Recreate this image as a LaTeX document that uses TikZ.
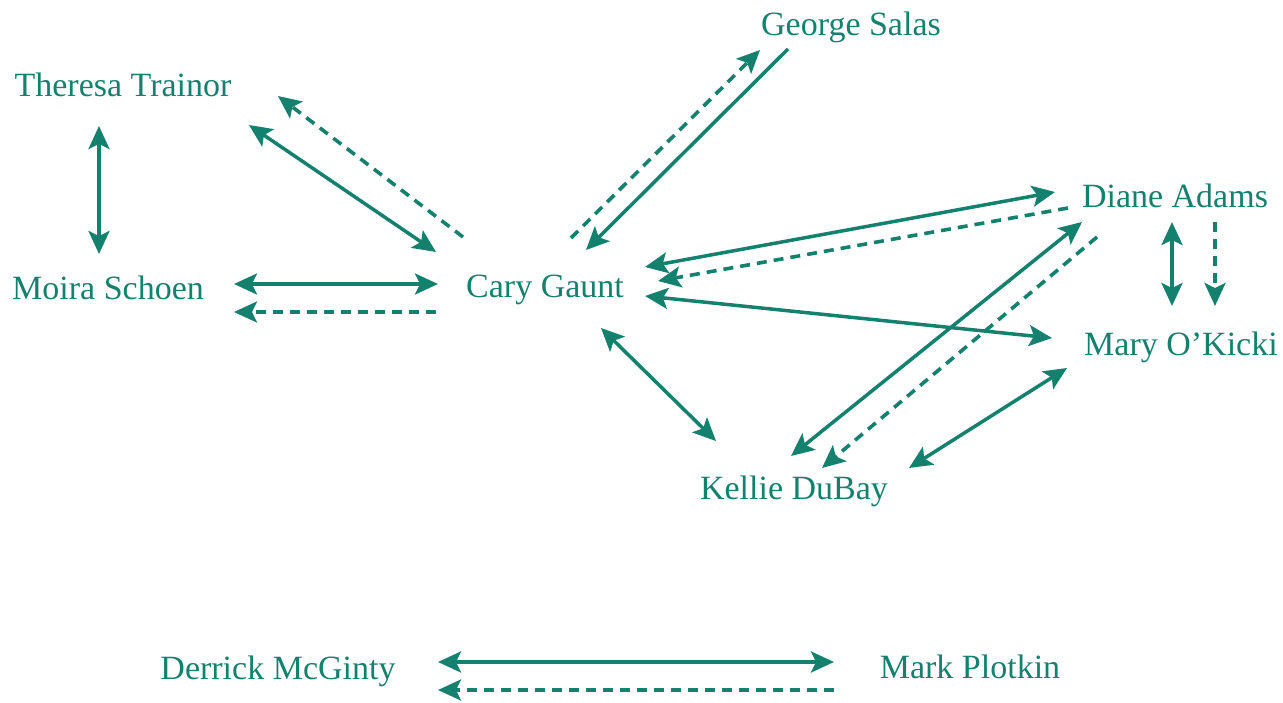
\documentclass[tikz,border=0pt]{standalone}
\usepackage{fontspec}
\setmainfont{Liberation Serif}
\usetikzlibrary{arrows.meta}
\definecolor{teal1}{RGB}{20,128,110}
\tikzset{
  person/.style={anchor=base, inner sep=0pt, text=teal1, font=\fontsize{34}{40}\selectfont},
  link/.style={draw=teal1, line width=3.5pt, <->},
  oneway/.style={draw=teal1, line width=3.6pt, dash pattern=on 10pt off 7pt, ->},
}
\begin{document}
\begin{tikzpicture}[x=1pt,y=-1pt, >={Stealth[length=23pt,width=21pt,inset=5pt]}]
\useasboundingbox (0,0) rectangle (1283,702);
\node[person] (theresa) at (123,96){Theresa Trainor};
\node[person] (moira) at (108,299){Moira Schoen};
\node[person] (cary) at (545,297){Cary Gaunt};
\node[person] (george) at (851,35){George Salas};
\node[person] (diane) at (1175,207){Diane Adams};
\node[person] (mary) at (1181,355){Mary O’Kicki};
\node[person] (kellie) at (794,499){Kellie DuBay};
\node[person] (derrick) at (278,679){Derrick McGinty};
\node[person] (mark) at (970,678){Mark Plotkin};
\draw[link]([shift={(-24,30)}]theresa.base) -- ([shift={(-9,-45)}]moira.base);
\draw[link]([shift={(126,29)}]theresa.base) -- ([shift={(-109,-45)}]cary.base);
\draw[oneway]([shift={(-82,-60)}]cary.base) -- ([shift={(155,0)}]theresa.base);
\draw[oneway]([shift={(26,-59)}]cary.base) -- ([shift={(-91,15)}]george.base);
\draw[link, <-]([shift={(41,-47)}]cary.base) -- ([shift={(-63,14)}]george.base);
\draw[link]([shift={(126,-15)}]moira.base) -- ([shift={(-107,-13)}]cary.base);
\draw[oneway]([shift={(-109,15)}]cary.base) -- ([shift={(126,13)}]moira.base);
\draw[link]([shift={(100,-30)}]cary.base) -- ([shift={(-120,-15)}]diane.base);
\draw[oneway]([shift={(-107,1)}]diane.base) -- ([shift={(113,-16)}]cary.base);
\draw[link]([shift={(100,-1)}]cary.base) -- ([shift={(-129,-17)}]mary.base);
\draw[link]([shift={(56,31)}]cary.base) -- ([shift={(-78,-58)}]kellie.base);
\draw[link]([shift={(-93,15)}]diane.base) -- ([shift={(-3,-43)}]kellie.base);
\draw[oneway]([shift={(-78,30)}]diane.base) -- ([shift={(28,-31)}]kellie.base);
\draw[link]([shift={(115,-31)}]kellie.base) -- ([shift={(-114,13)}]mary.base);
\draw[link]([shift={(-3,15)}]diane.base) -- ([shift={(-9,-49)}]mary.base);
\draw[oneway]([shift={(40,15)}]diane.base) -- ([shift={(34,-49)}]mary.base);
\draw[link]([shift={(160,-17)}]derrick.base) -- ([shift={(-136,-16)}]mark.base);
\draw[oneway]([shift={(-136,12)}]mark.base) -- ([shift={(160,11)}]derrick.base);
\end{tikzpicture}
\end{document}
